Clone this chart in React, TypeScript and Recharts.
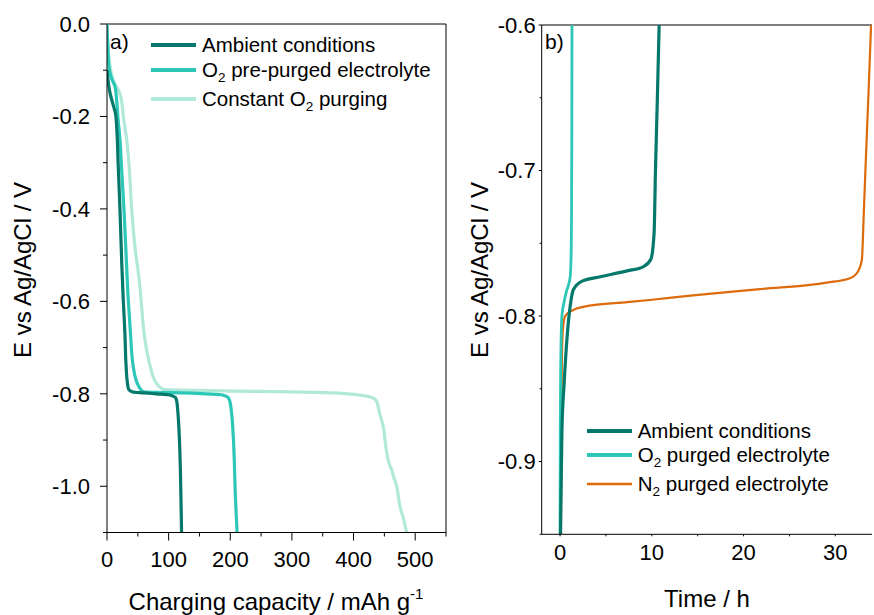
import React from "react";
import { LineChart, Line, XAxis, YAxis, ReferenceLine, Legend } from "recharts";

const FONT = "'Liberation Sans', Arial, Helvetica, sans-serif";

const DARK = "#05786C";
const TURQ = "#2CC7B6";
const MINT = "#B0E9D9";
const ORANGE = "#DD6A0B";

// panel a) capacity (mAh/g) vs potential (V)
const ambientCap = [0, 2, 5, 10, 14, 16, 18, 21, 24, 26.5, 29, 31, 33, 35, 42, 60, 80, 100, 107, 111, 113, 115, 117, 119, 120, 121];
const ambientE = [-0.1, -0.125, -0.15, -0.175, -0.195, -0.23, -0.3, -0.4, -0.52, -0.6, -0.667, -0.74, -0.775, -0.79, -0.796, -0.798, -0.8, -0.802, -0.805, -0.808, -0.815, -0.84, -0.884, -0.96, -1.028, -1.1];

const prePurgedCap = [0, 1, 2, 4, 8, 13, 15.6, 18, 21, 24, 27.5, 31, 34.5, 38, 42.5, 46, 50, 58, 80, 120, 160, 185, 191, 196, 199, 202, 204.5, 208.5, 211];
const prePurgedE = [0, -0.04, -0.07, -0.1, -0.12, -0.135, -0.164, -0.207, -0.25, -0.32, -0.4, -0.5, -0.596, -0.667, -0.74, -0.765, -0.78, -0.795, -0.797, -0.798, -0.8, -0.802, -0.804, -0.807, -0.815, -0.84, -0.884, -1.028, -1.1];

const constantCap = [0, 1, 3, 6, 10, 15, 19, 22, 24, 26.5, 32, 36, 40, 46, 51.5, 55.5, 60, 65, 70, 80, 91, 120, 200, 300, 380, 421, 430, 437, 442, 448, 453, 459, 462, 464, 470, 475, 481, 486];
const constantE = [0, -0.03, -0.07, -0.1, -0.12, -0.135, -0.145, -0.155, -0.17, -0.2, -0.25, -0.31, -0.4, -0.49, -0.545, -0.6, -0.667, -0.71, -0.74, -0.777, -0.79, -0.792, -0.794, -0.796, -0.799, -0.805, -0.808, -0.815, -0.84, -0.87, -0.92, -0.956, -0.965, -0.975, -1.0, -1.042, -1.07, -1.1];

// panel b) time (h) vs potential (V)
const ambientTime = [0.05, 0.2, 0.45, 0.8, 1.2, 1.45, 2.4, 4.4, 7.3, 9.1, 9.9, 10.25, 10.4, 10.6, 10.8];
const ambientTimeE = [-0.95, -0.88, -0.846, -0.812, -0.789, -0.782, -0.776, -0.773, -0.769, -0.766, -0.761, -0.743, -0.7, -0.652, -0.6];

const o2Time = [0, 0.02, 0.08, 0.2, 0.45, 0.7, 0.95, 1.12, 1.2, 1.25, 1.28, 1.3];
const o2TimeE = [-0.95, -0.88, -0.83, -0.8, -0.79, -0.783, -0.778, -0.772, -0.76, -0.73, -0.68, -0.6];

const n2Time = [0.1, 0.12, 0.15, 0.2, 0.3, 0.55, 1.4, 3.6, 7.3, 10, 14.5, 21.8, 29.1, 31.6, 32.5, 32.9, 33.1, 33.3, 33.6, 33.9];
const n2TimeE = [-0.95, -0.9, -0.86, -0.83, -0.81, -0.8, -0.796, -0.7925, -0.7905, -0.7888, -0.7858, -0.7815, -0.777, -0.774, -0.769, -0.761, -0.73, -0.697, -0.65, -0.6];

// ticks
const capTicks = [0, 50, 100, 150, 200, 250, 300, 350, 400, 450, 500, 550];
const capMajor = [0, 100, 200, 300, 400, 500];
const eTicksA = [0, -0.1, -0.2, -0.3, -0.4, -0.5, -0.6, -0.7, -0.8, -0.9, -1.0, -1.1];
const eMajorA = [0, -0.2, -0.4, -0.6, -0.8, -1.0];
const timeTicks = [0, 5, 10, 15, 20, 25, 30];
const timeMajor = [0, 10, 20, 30];
const eTicksB = [-0.6, -0.65, -0.7, -0.75, -0.8, -0.85, -0.9, -0.95];
const eMajorB = [-0.6, -0.7, -0.8, -0.9];

const pts = (xs: number[], ys: number[]) => xs.map((x, i) => ({ x, y: ys[i] }));

const isIn = (arr: number[], v: number) => arr.some((m) => Math.abs(m - v) < 1e-9);

function yTick(majors: number[], fmt: (v: number) => string, majorLen: number, minorLen: number, gap: number) {
  return (props: any) => {
    const { x, y, payload } = props;
    const major = isIn(majors, payload.value);
    const len = major ? majorLen : minorLen;
    return (
      <g>
        <line x1={x - len} x2={x} y1={y} y2={y} stroke="#000" strokeWidth={1} />
        {major && (
          <text x={x - gap} y={y} dy="0.35em" textAnchor="end" fontSize={22} fontFamily={FONT} fill="#000">
            {fmt(payload.value)}
          </text>
        )}
      </g>
    );
  };
}

function xTick(majors: number[], majorLen: number, minorLen: number, gap: number) {
  return (props: any) => {
    const { x, y, payload } = props;
    const major = isIn(majors, payload.value);
    const len = major ? majorLen : minorLen;
    return (
      <g>
        <line x1={x} x2={x} y1={y} y2={y + len} stroke="#000" strokeWidth={1} />
        {major && (
          <text x={x} y={y + gap} textAnchor="middle" fontSize={22} fontFamily={FONT} fill="#000">
            {payload.value}
          </text>
        )}
      </g>
    );
  };
}

type Row = { cy: number; color: string; width: number; label: React.ReactNode };

const Sub = ({ children }: { children: React.ReactNode }) => (
  <span style={{ fontSize: "0.66em", lineHeight: 0, position: "relative", top: "0.35em" }}>{children}</span>
);

function LegendBox({ rows }: { rows: Row[] }) {
  return (
    <div style={{ position: "relative", width: 320, height: 1, fontFamily: FONT, fontSize: 20.5, color: "#000" }}>
      {rows.map((r, i) => (
        <div
          key={i}
          style={{ position: "absolute", left: 0, top: r.cy - 15, height: 30, display: "flex", alignItems: "center", whiteSpace: "nowrap" }}
        >
          <svg width={45} height={30} style={{ display: "block" }}>
            <line x1={0} x2={45} y1={15} y2={15} stroke={r.color} strokeWidth={r.width} />
          </svg>
          <span style={{ marginLeft: 6, lineHeight: "30px" }}>{r.label}</span>
        </div>
      ))}
    </div>
  );
}

const legendA: Row[] = [
  { cy: 45, color: DARK, width: 4, label: "Ambient conditions" },
  { cy: 70, color: TURQ, width: 4, label: <>O<Sub>2</Sub> pre-purged electrolyte</> },
  { cy: 99, color: MINT, width: 4, label: <>Constant O<Sub>2</Sub> purging</> },
];

const legendB: Row[] = [
  { cy: 431, color: DARK, width: 4, label: "Ambient conditions" },
  { cy: 455, color: TURQ, width: 4, label: <>O<Sub>2</Sub> purged electrolyte</> },
  { cy: 484, color: ORANGE, width: 2.5, label: <>N<Sub>2</Sub> purged electrolyte</> },
];

export default function App() {
  return (
    <div style={{ position: "absolute", left: 0, top: 0, width: 874, height: 615, background: "#fff", overflow: "hidden" }}>
      <div style={{ position: "absolute", left: 0, top: 0 }}>
        <LineChart width={460} height={615} margin={{ top: 24, right: 14, bottom: 52.5, left: 47 }}>
          <XAxis
            dataKey="x"
            type="number"
            domain={[0, 550]}
            ticks={capTicks}
            interval={0}
            height={30}
            tickSize={0}
            tickMargin={0}
            tickLine={false}
            axisLine={{ stroke: "#000" }}
            tick={xTick(capMajor, 8, 4, 34)}
            allowDataOverflow
          />
          <YAxis
            dataKey="y"
            type="number"
            domain={[-1.1, 0]}
            ticks={eTicksA}
            interval={0}
            width={60}
            tickSize={0}
            tickMargin={0}
            tickLine={false}
            axisLine={{ stroke: "#000" }}
            tick={yTick(eMajorA, (v) => v.toFixed(1), 7, 4, 17)}
            allowDataOverflow
          />
          <ReferenceLine y={0} stroke="#000" strokeWidth={1} />
          <ReferenceLine x={550} stroke="#000" strokeWidth={1} />
          <Line data={pts(constantCap, constantE)} dataKey="y" type="monotoneY" stroke={MINT} strokeWidth={3.2} dot={false} isAnimationActive={false} />
          <Line data={pts(prePurgedCap, prePurgedE)} dataKey="y" type="monotoneY" stroke={TURQ} strokeWidth={3.2} dot={false} isAnimationActive={false} />
          <Line data={pts(ambientCap, ambientE)} dataKey="y" type="monotoneY" stroke={DARK} strokeWidth={3.2} dot={false} isAnimationActive={false} />
          <Legend
            layout="vertical"
            align="center"
            verticalAlign="middle"
            wrapperStyle={{ left: 151, top: 0, width: 320, height: 1 }}
            content={() => <LegendBox rows={legendA} />}
          />
        </LineChart>
      </div>

      <div style={{ position: "absolute", left: 460, top: 0 }}>
        <LineChart width={414} height={615} margin={{ top: 25, right: 2, bottom: 50.7, left: 21.7 }}>
          <XAxis
            dataKey="x"
            type="number"
            domain={[-2, 34]}
            ticks={timeTicks}
            interval={0}
            height={30}
            tickSize={0}
            tickMargin={0}
            tickLine={false}
            axisLine={{ stroke: "#000" }}
            tick={xTick(timeMajor, 2, 2, 26)}
            allowDataOverflow
          />
          <YAxis
            dataKey="y"
            type="number"
            domain={[-0.95, -0.6]}
            ticks={eTicksB}
            interval={0}
            width={60}
            tickSize={0}
            tickMargin={0}
            tickLine={false}
            axisLine={{ stroke: "#000" }}
            tick={yTick(eMajorB, (v) => v.toFixed(1), 3, 2, 6)}
            allowDataOverflow
          />
          <ReferenceLine y={-0.6} stroke="#000" strokeWidth={1} />
          <Line data={pts(n2Time, n2TimeE)} dataKey="y" type="monotoneX" stroke={ORANGE} strokeWidth={2.2} dot={false} isAnimationActive={false} />
          <Line data={pts(o2Time, o2TimeE)} dataKey="y" type="monotoneX" stroke={TURQ} strokeWidth={2.8} dot={false} isAnimationActive={false} />
          <Line data={pts(ambientTime, ambientTimeE)} dataKey="y" type="monotoneX" stroke={DARK} strokeWidth={3.2} dot={false} isAnimationActive={false} />
          <Legend
            layout="vertical"
            align="center"
            verticalAlign="middle"
            wrapperStyle={{ left: 126.7, top: 0, width: 320, height: 1 }}
            content={() => <LegendBox rows={legendB} />}
          />
        </LineChart>
      </div>

      <svg width={874} height={615} style={{ position: "absolute", left: 0, top: 0, pointerEvents: "none" }} fontFamily={FONT} fill="#000">
        <text x={110} y={49} fontSize={21}>a)</text>
        <text x={545} y={49} fontSize={21}>b)</text>
        <text transform="translate(31,270) rotate(-90)" textAnchor="middle" fontSize={24}>E vs Ag/AgCl / V</text>
        <text transform="translate(488,270) rotate(-90)" textAnchor="middle" fontSize={24}>E vs Ag/AgCl / V</text>
        <text x={276} y={610} textAnchor="middle" fontSize={24}>
          Charging capacity / mAh g<tspan fontSize={15} dy={-11}>-1</tspan>
        </text>
        <text x={707} y={607} textAnchor="middle" fontSize={24}>Time / h</text>
      </svg>
    </div>
  );
}
